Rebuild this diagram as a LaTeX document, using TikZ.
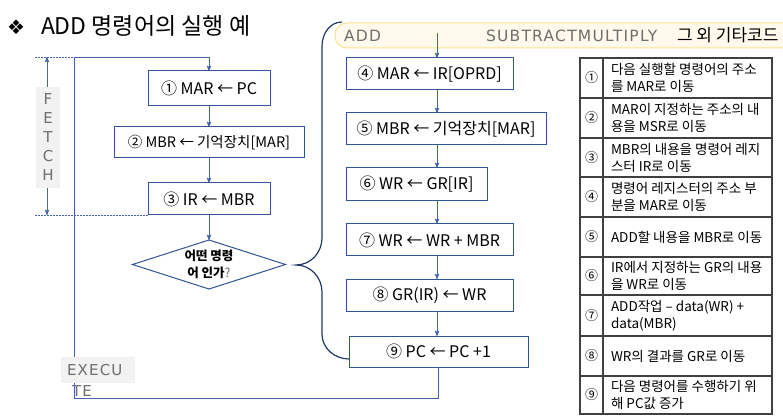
\documentclass[tikz,border=0pt]{standalone}
\usepackage{fontspec}
\setmainfont{Noto Sans CJK KR}
\newfontfamily\symfont{DejaVu Sans}
\newfontfamily\tagfont{DejaVu Sans}[LetterSpace=8]
\usetikzlibrary{calc,positioning,shapes.geometric}
\usetikzlibrary{arrows}
\definecolor{flowblue}{RGB}{47,85,151}
\definecolor{linkblue}{RGB}{68,100,170}
\definecolor{bracenavy}{RGB}{31,56,100}
\definecolor{taggray}{RGB}{110,110,110}
\definecolor{tagfill}{RGB}{242,242,242}
\definecolor{barfill}{RGB}{255,250,236}
\definecolor{barline}{RGB}{255,224,140}
\definecolor{gridgray}{RGB}{64,64,64}
\tikzstyle{flow chart}=[
    x=1pt, y=-1pt, >=stealth',
    every node/.style={inner sep=0pt, outer sep=0pt},
]
\tikzstyle{opbox}=[draw=flowblue, line width=1pt, fill=white, minimum height=32pt,
    font=\fontsize{16}{18}\selectfont]
\tikzstyle{decision}=[diamond, aspect=3.1, draw=flowblue, line width=1pt, fill=white,
    minimum width=153pt, minimum height=49pt, align=center,
    font=\fontsize{12.5}{17}\selectfont\bfseries]
\tikzstyle{flow}=[->, draw=linkblue, line width=0.9pt]
\tikzstyle{guide}=[draw=linkblue, line width=0.8pt, dash pattern=on 2pt off 1pt]
\tikzstyle{tag}=[fill=tagfill, text=taggray, font=\tagfont\fontsize{15}{19}\selectfont]
\tikzstyle{bartext}=[anchor=west, text=taggray, font=\tagfont\fontsize{15.5}{18}\selectfont]
\tikzstyle{cell}=[anchor=west, align=left, font=\fontsize{13.5}{17}\selectfont]
\tikzstyle{grid}=[draw=gridgray, line width=1.2pt]
\newcommand{\assign}[2]{#1 ← #2}

\begin{document}
\begin{tikzpicture}[flow chart]
    \useasboundingbox (0,0) rectangle (783,419);

    % title
    \node[font=\symfont\fontsize{20}{22}\selectfont] (mark) at (16,27) {❖};
    \node[anchor=west, font=\fontsize{23}{25}\selectfont] (title) at (41,26) {ADD 명령어의 실행 예};

    % opcode bar
    \draw[barline, fill=barfill, line width=1pt, rounded corners=12pt]
        (795,23) -| (335,48) -- (795,48);
    \node[bartext] (add) at (344,36) {ADD};
    \node[bartext] (others) at (486,36) {SUBTRACTMULTIPLY};
    \node[anchor=west, font=\fontsize{17}{18}\selectfont] (etc) at (677,35) {그 외 기타코드};
    \coordinate (addtop) at (437,33);

    % fetch cycle
    \node[opbox, minimum width=122pt, minimum height=35pt] (f1) at (209,88.5) {① \assign{MAR}{PC}};
    \node[opbox, minimum width=190pt, minimum height=31pt, below=21pt of f1,
        font=\fontsize{14.5}{16}\selectfont] (f2) {② \assign{MBR}{기억장치[MAR]}};
    \node[opbox, minimum width=122pt, below=25pt of f2] (f3) {③ \assign{IR}{MBR}};
    \node[decision, below=25pt of f3] (ask) {어떤 명령\\어 인가{\mdseries\color{taggray}?}};

    \path[flow]
        (f1) edge (f2)
        (f2) edge (f3)
        (f3) edge (ask)
    ;

    % execute cycle
    \node[opbox, minimum width=167pt, anchor=north west] (e4) at (346,58) {④ \assign{MAR}{IR[OPRD]}};
    \node[opbox, minimum width=200pt, below=23pt of e4.south west, anchor=north west] (e5) {⑤ \assign{MBR}{기억장치[MAR]}};
    \node[opbox, minimum width=141pt, minimum height=33pt, below=23pt of e5.south west, anchor=north west] (e6) {⑥ \assign{WR}{GR[IR]}};
    \node[opbox, minimum width=167pt, below=23pt of e6.south west, anchor=north west] (e7) {⑦ \assign{WR}{WR + MBR}};
    \node[opbox, minimum width=167pt, below=23pt of e7.south west, anchor=north west] (e8) {⑧ \assign{GR(IR)}{WR}};
    \node[opbox, minimum width=179pt, minimum height=31pt, below=25pt of e8.south west, anchor=north west,
        xshift=3pt] (e9) {⑨ \assign{PC}{PC +1}};

    \draw[flow] (addtop) -- (e4.north -| addtop);
    \foreach \a/\b in {e4/e5,e5/e6,e6/e7,e7/e8,e8/e9}
        \draw[flow] (\a.south -| addtop) -- (\b.north -| addtop);

    % brace from decision to execute column
    \draw[bracenavy, line width=1.2pt]
        (342,22) to[out=180,in=90] (322,46) -- (322,238)
        to[out=-90,in=0] (296,265) to[out=0,in=90] (322,292) -- (322,334)
        to[out=-90,in=180] (e9.west |- 0,359);

    % back to fetch
    \coordinate (back) at (74,398);
    \coordinate (loop) at (74,57);
    \draw[flow] (e9.south) |- (back) -- (loop) -| (f1.north);

    % fetch marker
    \coordinate (ftop) at (35,57);
    \coordinate (fbot) at (35,215);
    \draw[guide] (ftop) -- (ftop -| f1.west);
    \draw[guide] (fbot) -- (f3.south west);
    \node[tag, minimum width=24pt, minimum height=101pt, align=center] (fetch) at (48,137.5) {F\\E\\T\\C\\H};
    \draw[flow] (fetch.north -| 47,0) -- (ftop -| 47,0);
    \draw[flow] (fetch.south -| 47,0) -- (fbot -| 47,0);

    % execute marker
    \node[tag, minimum width=74pt, minimum height=26pt, text width=62pt, align=left] (exec) at (98,370) {EXECU};
    \node[tag, fill=none, anchor=west] (exec2) at (72,391) {TE};

    % description table
    \foreach \i/\num/\ya/\yb/\txt in {
        1/①/58/98/{다음 실행할 명령어의 주소\\를 MAR로 이동},
        2/②/98/138/{MAR이 지정하는 주소의 내\\용을 MSR로 이동},
        3/③/138/177/{MBR의 내용을 명령어 레지\\스터 IR로 이동},
        4/④/177/217/{명령어 레지스터의 주소 부\\분을 MAR로 이동},
        5/⑤/217/257/{ADD할 내용을 MBR로 이동},
        6/⑥/257/295/{IR에서 지정하는 GR의 내용\\을 WR로 이동},
        7/⑦/295/336/{ADD작업 – data(WR) +\\data(MBR)},
        8/⑧/336/376/{WR의 결과를 GR로 이동},
        9/⑨/376/414/{다음 명령어를 수행하기 위\\해 PC값 증가}} {
        \node[font=\fontsize{13}{14}\selectfont] (n\i) at (591.5,{(\ya+\yb)/2}) {\num};
        \node[cell] (t\i) at (611,{(\ya+\yb)/2}) {\txt};
        \draw[grid] (580,\yb) -- (772,\yb);
    }
    \draw[grid] (580,58) rectangle (772,414);
    \draw[grid] (603,58) -- (603,414);
\end{tikzpicture}
\end{document}
